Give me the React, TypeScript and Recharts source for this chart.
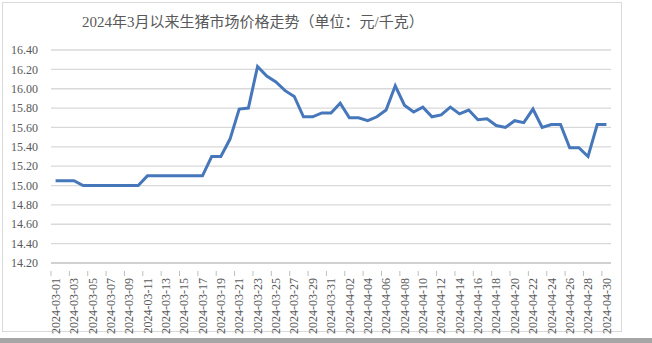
import { LineChart, Line, XAxis, YAxis, CartesianGrid } from 'recharts';

const dates: string[] = [
  '2024-03-01', '2024-03-02', '2024-03-03', '2024-03-04', '2024-03-05', '2024-03-06',
  '2024-03-07', '2024-03-08', '2024-03-09', '2024-03-10', '2024-03-11', '2024-03-12',
  '2024-03-13', '2024-03-14', '2024-03-15', '2024-03-16', '2024-03-17', '2024-03-18',
  '2024-03-19', '2024-03-20', '2024-03-21', '2024-03-22', '2024-03-23', '2024-03-24',
  '2024-03-25', '2024-03-26', '2024-03-27', '2024-03-28', '2024-03-29', '2024-03-30',
  '2024-03-31', '2024-04-01', '2024-04-02', '2024-04-03', '2024-04-04', '2024-04-05',
  '2024-04-06', '2024-04-07', '2024-04-08', '2024-04-09', '2024-04-10', '2024-04-11',
  '2024-04-12', '2024-04-13', '2024-04-14', '2024-04-15', '2024-04-16', '2024-04-17',
  '2024-04-18', '2024-04-19', '2024-04-20', '2024-04-21', '2024-04-22', '2024-04-23',
  '2024-04-24', '2024-04-25', '2024-04-26', '2024-04-27', '2024-04-28', '2024-04-29',
  '2024-04-30',
];

const prices: number[] = [
  15.05, 15.05, 15.05, 15.0, 15.0, 15.0, 15.0, 15.0, 15.0, 15.0,
  15.1, 15.1, 15.1, 15.1, 15.1, 15.1, 15.1, 15.3, 15.3, 15.48,
  15.79, 15.8, 16.23, 16.13, 16.07, 15.98, 15.92, 15.71, 15.71, 15.75,
  15.75, 15.85, 15.7, 15.7, 15.67, 15.71, 15.78, 16.03, 15.83, 15.76,
  15.81, 15.71, 15.73, 15.81, 15.74, 15.78, 15.68, 15.69, 15.62, 15.6,
  15.67, 15.65, 15.79, 15.6, 15.63, 15.63, 15.39, 15.39, 15.3, 15.63,
  15.63,
];

const yTicks: number[] = [14.2, 14.4, 14.6, 14.8, 15.0, 15.2, 15.4, 15.6, 15.8, 16.0, 16.2, 16.4];

const title = '2024年3月以来生猪市场价格走势（单位：元/千克）';

const data = dates.map((d, i) => ({ date: d, price: prices[i] }));

const FONT = "'Liberation Serif', 'Times New Roman', 'Noto Sans CJK SC', serif";
const TEXT = '#595959';

const CHART_W = 652;
const MARGIN = { top: 50, right: 41, left: 0, bottom: 0 };
const Y_W = 51;
const BAND = (CHART_W - MARGIN.left - MARGIN.right - Y_W) / dates.length;

function DateTick(props: any) {
  const { x, y, payload } = props;
  return (
    <g transform={`translate(${x},${y})`}>
      <line x1={-BAND / 2} y1={0} x2={-BAND / 2} y2={5} stroke="#bfbfbf" />
      <text
        transform="rotate(-90)"
        x={-7}
        y={0}
        dy="0.35em"
        textAnchor="end"
        fill={TEXT}
        style={{ fontFamily: FONT, fontSize: 12 }}
      >
        {payload.value}
      </text>
    </g>
  );
}

function PriceTick(props: any) {
  const { x, y, payload } = props;
  return (
    <text
      x={x}
      y={y}
      dy="0.35em"
      textAnchor="end"
      fill={TEXT}
      style={{ fontFamily: FONT, fontSize: 12 }}
    >
      {Number(payload.value).toFixed(2)}
    </text>
  );
}

export default function App() {
  return (
    <div style={{ position: 'absolute', left: 0, top: 0, width: 652, height: 343, background: '#fff' }}>
      <div
        style={{
          position: 'absolute', left: 2, top: 2, width: 620, height: 330,
          border: '1px solid #d9d9d9', boxSizing: 'border-box',
        }}
      />
      <div style={{ position: 'absolute', left: 0, top: 338, width: 652, height: 5, background: '#a6a6a6' }} />
      <div
        style={{
          position: 'absolute', left: 82, top: 12, width: 336, textAlign: 'center',
          fontFamily: FONT, fontSize: 15, color: TEXT, whiteSpace: 'nowrap', lineHeight: '20px',
        }}
      >
        {title}
      </div>
      <LineChart width={CHART_W} height={343} data={data} margin={MARGIN}>
        <CartesianGrid vertical={false} stroke="#d9d9d9" strokeWidth={1.3} />
        <XAxis
          dataKey="date"
          scale="band"
          interval={1}
          height={80}
          axisLine={{ stroke: '#bfbfbf' }}
          tickLine={false}
          tick={<DateTick />}
        />
        <YAxis
          width={Y_W}
          domain={[14.2, 16.4]}
          ticks={yTicks}
          interval={0}
          axisLine={false}
          tickLine={false}
          tickMargin={7}
          tick={<PriceTick />}
        />
        <Line
          dataKey="price"
          stroke="#4677ba"
          strokeWidth={3}
          dot={false}
          isAnimationActive={false}
          strokeLinejoin="miter"
        />
      </LineChart>
    </div>
  );
}
